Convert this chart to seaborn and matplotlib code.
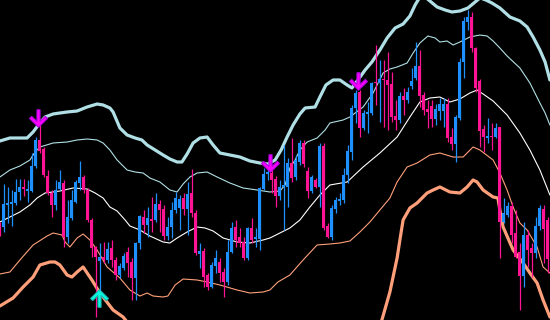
import numpy as np
import pandas as pd
import matplotlib
matplotlib.use("Agg")
import matplotlib.pyplot as plt
import seaborn as sns
from matplotlib.path import Path

# ---------------- data (price units, candle index from -1) ----------------
opens = [92, 93, 115, 116, 117, 128, 133, 129, 129, 154, 180, 171, 144, 127, 115, 131, 137, 83, 102, 118,
         137, 143, 130, 100, 73, 59, 63, 60, 72, 60, 45, 52, 68, 58, 42, 77, 103, 95, 101, 100,
         116, 111, 84, 93, 110, 112, 122, 111, 127, 107, 66, 69, 45, 33, 54, 58, 48, 38, 68, 93,
         83, 78, 62, 92, 81, 81, 131, 146, 147, 141, 124, 133, 133, 157, 143, 158, 177, 149, 129, 140,
         133, 174, 94, 83, 111, 119, 120, 145, 168, 212, 228, 192, 206, 207, 238, 237, 241, 240, 236, 204,
         200, 224, 220, 234, 242, 254, 225, 211, 214, 201, 209, 209, 216, 183, 176, 202, 258, 298, 303, 272,
         239, 191, 182, 184, 183, 193, 98, 105, 114, 87, 68, 44, 85, 72, 67, 94, 111, 100]
closes = [87, 116, 117, 118, 128, 133, 131, 131, 154, 180, 169, 145, 127, 115, 130, 138, 83, 103, 120, 138,
          143, 130, 100, 72, 63, 63, 60, 71, 60, 45, 54, 64, 57, 42, 77, 104, 95, 102, 99, 116,
          110, 84, 93, 110, 122, 121, 111, 126, 107, 67, 69, 43, 33, 55, 62, 47, 38, 68, 92, 80,
          77, 62, 92, 80, 83, 132, 146, 148, 140, 124, 133, 135, 157, 142, 160, 177, 156, 129, 143, 133,
          174, 92, 83, 112, 120, 121, 145, 169, 212, 227, 192, 207, 208, 237, 237, 241, 240, 235, 203, 200,
          224, 220, 228, 239, 254, 224, 210, 208, 201, 211, 216, 216, 182, 176, 203, 258, 299, 303, 272, 232,
          189, 183, 184, 183, 192, 98, 107, 114, 85, 63, 44, 85, 70, 67, 94, 112, 91, 61]
highs = [98, 136, 133, 130, 141, 141, 141, 140, 167, 183, 200, 173, 150, 130, 140, 150, 140, 120, 130, 140,
         159, 145, 132, 102, 74, 77, 78, 78, 80, 63, 57, 67, 73, 62, 78, 105, 110, 113, 123, 127,
         120, 115, 103, 118, 128, 125, 127, 138, 151, 110, 77, 72, 47, 58, 70, 62, 52, 80, 98, 100,
         92, 83, 93, 102, 92, 133, 152, 152, 150, 144, 140, 175, 162, 182, 165, 180, 180, 153, 145, 142,
         177, 177, 97, 115, 123, 127, 152, 175, 215, 230, 230, 210, 218, 238, 275, 260, 260, 268, 248, 220,
         228, 232, 233, 252, 278, 270, 228, 220, 220, 216, 222, 222, 222, 192, 205, 262, 303, 310, 308, 273,
         241, 195, 202, 197, 197, 193, 122, 118, 118, 110, 77, 98, 90, 77, 103, 115, 115, 103]
lows = [84, 88, 97, 94, 115, 120, 124, 118, 128, 152, 167, 143, 125, 103, 110, 130, 73, 77, 100, 117,
        130, 127, 98, 63, 3, 23, 57, 57, 53, 40, 42, 50, 43, 20, 20, 71, 87, 83, 88, 98,
        88, 80, 80, 82, 107, 90, 105, 85, 103, 65, 52, 33, 30, 32, 47, 38, 23, 35, 67, 73,
        73, 60, 60, 77, 73, 70, 130, 140, 127, 113, 120, 90, 113, 138, 140, 155, 153, 122, 127, 132,
        113, 90, 82, 80, 107, 115, 117, 137, 160, 197, 183, 190, 187, 205, 215, 198, 193, 190, 198, 190,
        197, 205, 217, 231, 240, 213, 205, 192, 193, 195, 200, 193, 178, 170, 158, 200, 242, 290, 268, 228,
        173, 168, 177, 170, 182, 62, 97, 103, 77, 62, 10, 33, 53, 43, 62, 90, 57, 47]
candle_index = list(range(-1, 137))

# Bollinger-style bands: (candle index, price)
upper_outer_x = [-0.9, 1.6, 4.1, 5.9, 7.4, 9.1, 10.4, 12.4, 14.1, 15.9, 18.4, 20.9, 23.4, 24.9, 26.6, 27.4,
                 29.1, 30.9, 32.9, 34.6, 35.9, 37.9, 39.9, 41.6, 43.4, 44.6, 45.9, 47.4, 49.1, 50.9, 52.4,
                 54.1, 56.6, 59.1, 61.6, 64.1, 66.1, 67.9, 69.4, 70.9, 72.4, 74.1, 75.4, 77.9, 79.1, 80.6,
                 82.4, 84.1, 85.9, 87.1, 88.6, 90.4, 92.1, 94.1, 95.9, 97.9, 99.9, 101.6, 102.9, 104.1,
                 105.4, 106.6, 108.4, 110.4, 112.1, 114.1, 116.1, 117.6, 119.1, 120.6, 122.1, 124.1,
                 126.6, 129.1, 130.9, 132.4, 134.1, 135.4, 136.6]
upper_outer_y = [179, 182, 182, 182, 188, 197, 203, 206, 207, 208, 209, 213, 216, 215, 212, 208,
                 192, 185, 182, 180, 175, 170, 165, 161, 158, 158, 166, 177, 182, 183, 175,
                 167, 165, 163, 159, 157, 156, 160, 170, 183, 195, 206, 212, 213, 223, 235,
                 240, 240, 235, 232, 240, 250, 258, 270, 282, 292, 296, 304, 315, 323,
                 323, 319, 313, 310, 308, 309, 312, 317, 322, 320, 317, 312,
                 303, 299, 293, 283, 270, 258, 240]
upper_inner_x = [-0.9, 1.6, 4.1, 6.6, 7.9, 9.1, 12.4, 15.9, 18.4, 20.9, 23.4, 24.9, 26.6, 28.4, 30.9,
                 32.9, 34.9, 36.6, 39.1, 41.6, 43.4, 44.9, 46.6, 48.4, 50.9, 53.4, 56.6, 59.9, 63.4,
                 66.6, 69.1, 70.4, 71.6, 72.9, 74.1, 75.9, 78.4, 80.4, 81.6, 84.9, 86.6, 89.9, 92.4,
                 94.9, 96.6, 98.4, 100.9, 102.4, 104.1, 106.1, 107.9, 109.1, 110.9, 112.4, 114.1,
                 116.6, 119.1, 120.9, 122.4, 124.1, 125.9, 129.1, 131.6, 134.1, 135.4, 136.6]
upper_inner_y = [143, 150, 154, 160, 168, 173, 177, 178, 180, 181, 180, 177, 170, 160, 150,
                 148, 147, 142, 138, 130, 128, 136, 143, 147, 148, 143, 137, 132, 130,
                 128, 129, 135, 152, 160, 170, 178, 182, 190, 197, 200, 203, 213, 227,
                 247, 251, 253, 257, 267, 277, 284, 282, 278, 279, 275, 278,
                 283, 285, 284, 279, 272, 264, 252, 237, 217, 207, 195]
middle_x = [-0.9, 1.6, 4.1, 6.6, 8.4, 10.4, 14.1, 17.4, 20.9, 22.9, 24.9, 26.6, 28.4, 30.4, 31.6, 34.1,
            36.6, 39.9, 41.6, 43.4, 45.9, 48.4, 50.4, 52.4, 54.9, 58.4, 61.6, 64.9, 66.6, 69.1, 71.6,
            74.1, 76.6, 79.1, 81.6, 85.9, 89.9, 94.1, 98.4, 101.6, 104.1, 106.6, 109.1, 111.6, 114.1,
            116.6, 118.4, 119.9, 122.4, 125.9, 129.1, 131.6, 134.1, 136.6]
middle_y = [98, 103, 108, 115, 122, 127, 129, 132, 131, 127, 122, 113, 109, 100, 94, 90,
            84, 78, 77, 82, 88, 93, 92, 89, 82, 78, 77, 80, 82, 87, 92,
            100, 113, 125, 135, 138, 153, 167, 183, 203, 218, 222, 223, 218, 221,
            227, 230, 226, 219, 205, 187, 170, 150, 125]
lower_inner_x = [-0.9, 1.6, 4.1, 7.4, 10.9, 12.4, 14.6, 15.4, 16.6, 18.4, 19.9, 21.6, 23.4, 25.9, 29.1,
                 31.6, 34.1, 35.9, 37.4, 39.9, 41.1, 42.9, 44.9, 48.4, 50.9, 54.1, 58.4, 61.6, 64.9,
                 66.6, 68.6, 71.6, 74.9, 78.4, 81.6, 84.1, 86.6, 89.1, 91.6, 94.1, 96.6, 98.4, 100.9,
                 103.4, 106.6, 109.1, 112.4, 114.9, 117.4, 119.1, 122.4, 124.1, 125.9, 127.4, 129.1,
                 130.9, 133.4, 134.9, 136.6]
lower_inner_y = [46, 48, 60, 75, 84, 87, 85, 78, 73, 82, 86, 80, 70, 53, 42,
                 30, 24, 27, 24, 23, 24, 35, 41, 40, 38, 35, 30, 27, 28,
                 30, 38, 45, 60, 75, 76, 77, 79, 88, 98, 110, 122, 138, 153,
                 157, 165, 167, 163, 163, 173, 170, 160, 147, 130, 113, 97,
                 90, 73, 53, 47]
lower_outer_x = [-0.9, 2.4, 4.9, 7.4, 9.1, 11.6, 12.9, 14.1, 15.9, 17.1, 18.4, 19.9, 22.1, 24.1, 27.4,
                 29.9, 32.1, 36.6, 50.0, 70.0, 85.0, 93.0, 94.6, 96.6, 98.4, 99.1, 99.9, 101.6, 103.4,
                 105.9, 107.4, 109.1, 111.6, 114.1, 115.9, 117.4, 118.4, 119.9, 122.4, 123.6, 124.1,
                 124.9, 127.4, 129.9, 131.6, 133.4, 134.9, 136.6]
lower_outer_y = [14, 22, 33, 43, 55, 58, 58, 55, 45, 43, 48, 53, 40, 27, 10,
                 3, -8, -18, -25, -25, -20, -10, 0, 28, 62, 80, 100, 112, 117,
                 127, 130, 133, 128, 127, 133, 140, 138, 130, 123, 122, 110,
                 93, 70, 57, 47, 37, 20, 3]

# signal arrows (candle index, arrow centre price)
sell_x = [8.6, 66.6, 88.6]
sell_y = [201.5, 156, 238]
buy_x = [23.8]
buy_y = [23.5]

# ---------------- style ----------------
BULL = "#1E90FF"
BEAR = "#FF1493"
UPPER = "#B0E0E6"
MID = "#FFFFFF"
LOWER = "#FFA07A"

sns.set_theme(style="dark", rc={"axes.facecolor": "black", "figure.facecolor": "black"})

fig = plt.figure(figsize=(5.5, 3.2), dpi=100)
ax = fig.add_axes([0, 0, 1, 1])
ax.set_facecolor("black")

bands = [
    (upper_outer_x, upper_outer_y, UPPER, 2.3),
    (upper_inner_x, upper_inner_y, UPPER, 0.8),
    (middle_x, middle_y, MID, 0.8),
    (lower_inner_x, lower_inner_y, LOWER, 0.8),
    (lower_outer_x, lower_outer_y, LOWER, 2.3),
]
for bx, by, col, lw in bands:
    sns.lineplot(x=bx, y=by, ax=ax, color=col, linewidth=lw, sort=False,
                 estimator=None, zorder=1)

df = pd.DataFrame({"i": candle_index, "open": opens, "high": highs, "low": lows, "close": closes})
df["color"] = np.where(df["close"] >= df["open"], BULL, BEAR)
df["bottom"] = df[["open", "close"]].min(axis=1)
df["height"] = (df["close"] - df["open"]).abs().clip(lower=1.5)

ax.vlines(df["i"], df["low"], df["high"], colors=df["color"], linewidth=0.9, zorder=2)
ax.bar(df["i"], df["height"], bottom=df["bottom"], width=0.75, color=df["color"],
       linewidth=0, zorder=3)

down_path = Path([(-0.16, 1.0), (0.16, 1.0), (0.16, -0.2), (0.7, 0.32), (0.92, 0.1),
                  (0.0, -0.8), (-0.92, 0.1), (-0.7, 0.32), (-0.16, -0.2), (-0.16, 1.0)])
up_path = Path([(x, -y) for x, y in down_path.vertices])

ax.plot(sell_x, sell_y, linestyle="none", marker=down_path, markersize=14,
        markerfacecolor="#FF00FF", markeredgecolor="#B000E0", markeredgewidth=0.8, zorder=5)
ax.plot(buy_x, buy_y, linestyle="none", marker=up_path, markersize=14,
        markerfacecolor="#00FFE0", markeredgecolor="#20B0B0", markeredgewidth=0.8, zorder=5)

ax.set_xlim(-0.875, 136.625)
ax.set_ylim(0, 320)
ax.axis("off")

fig.savefig("out.png", dpi=100, facecolor="black")
